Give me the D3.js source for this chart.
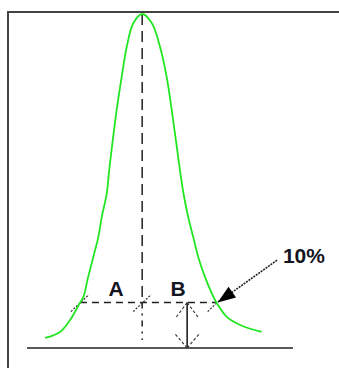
<!DOCTYPE html>
<html>
<head>
<meta charset="utf-8">
<script src="https://cdn.jsdelivr.net/npm/d3@7"></script>
<style>
	body { margin: 0; background: #fff; }
	svg { display: block; }
	.label { font-family: "Liberation Sans", Arial, sans-serif; font-weight: bold; font-size: 21px; fill: #15151f; }
</style>
</head>
<body>
<div id="chart"></div>
<script>
// peak trace (time units 0-100, signal as % of peak height)
let curveTime   = [6.8, 12.4, 16.2, 19.9, 21.2, 23.0, 24.9, 26.8, 28.1, 30.0, 30.9, 31.8, 33.7, 35.6, 37.5, 40.0, 43.3,
	46.9, 50.0, 52.5, 54.4, 57.5, 58.8, 60.6, 62.5, 64.4, 66.9, 69.4, 71.3, 75.1, 80.1, 88.2];
let curveSignal = [3.0, 4.8, 8.4, 13.5, 15.3, 21.3, 27.2, 33.2, 39.2, 46.4, 53.3, 59.3, 71.3, 81.2, 90.2, 97.3, 100,
	97.3, 90.2, 81.2, 71.3, 53.3, 46.4, 39.2, 33.2, 27.2, 21.3, 16.5, 13.5, 9.3, 6.9, 4.8];

// marker values
let peakTime = 43.3;
let peakHeight = 100;
let levelHeight = 13.6;          // the "10%" line
let crossTimes = [19.9, 71.3];   // front (A) and tail (B) crossings
let labels = ["A", "B", "10%"];

let width = 339, height = 368;

let svg = d3.select("#chart").append("svg")
	.attr("width", width)
	.attr("height", height);

// scales
let x = d3.scaleLinear().domain([0, 100]).range([27, 293]);
let y = d3.scaleLinear().domain([0, 100]).range([348, 14]);

// frame (only top and left edges show)
svg.append("rect")
	.attr("x", 8).attr("y", 12)
	.attr("width", 400).attr("height", 400)
	.attr("fill", "none")
	.attr("stroke", "#444")
	.attr("stroke-width", 2);

// baseline
svg.append("line")
	.attr("x1", x(0)).attr("x2", x(100))
	.attr("y1", y(0)).attr("y2", y(0))
	.attr("stroke", "#222")
	.attr("stroke-width", 1.5);

// vertical dashed line through the apex
svg.append("line")
	.attr("x1", x(peakTime)).attr("x2", x(peakTime))
	.attr("y1", y(peakHeight)).attr("y2", y(levelHeight))
	.attr("stroke", "#222")
	.attr("stroke-width", 1.5)
	.attr("stroke-dasharray", "11,6");
svg.append("line")
	.attr("x1", x(peakTime)).attr("x2", x(peakTime))
	.attr("y1", y(levelHeight)).attr("y2", y(2.4))
	.attr("stroke", "#222")
	.attr("stroke-width", 1.5)
	.attr("stroke-dasharray", "6,5,2,5");

// horizontal dashed line at 10% height
svg.append("line")
	.attr("x1", x(crossTimes[0])).attr("x2", x(crossTimes[1]))
	.attr("y1", y(levelHeight)).attr("y2", y(levelHeight))
	.attr("stroke", "#222")
	.attr("stroke-width", 1.5)
	.attr("stroke-dasharray", "7,5");

// small diagonal ticks at the crossings
[crossTimes[0], peakTime, crossTimes[1]].forEach(function (t) {
	svg.append("line")
		.attr("x1", x(t) - 9).attr("y1", y(levelHeight) + 9)
		.attr("x2", x(t) + 9).attr("y2", y(levelHeight) - 8)
		.attr("stroke", "#333")
		.attr("stroke-width", 1.2)
		.attr("stroke-dasharray", "2,1.5");
});

// the peak itself
let data = curveTime.map((t, i) => ({t: t, v: curveSignal[i]}));
let line = d3.line()
	.x(d => x(d.t))
	.y(d => y(d.v))
	.curve(d3.curveCatmullRom);
svg.append("path")
	.datum(data)
	.attr("d", line)
	.attr("fill", "none")
	.attr("stroke", "#22e622")
	.attr("stroke-width", 1.8);

// double-headed height arrow
let hx = x(60.2);
svg.append("line")
	.attr("x1", hx).attr("x2", hx)
	.attr("y1", y(levelHeight)).attr("y2", y(0))
	.attr("stroke", "#111")
	.attr("stroke-width", 1.5);
[[y(levelHeight), 16], [y(0), -14]].forEach(function (a) {
	[-12, 12].forEach(function (dx) {
		svg.append("line")
			.attr("x1", hx).attr("y1", a[0])
			.attr("x2", hx + dx).attr("y2", a[0] + a[1])
			.attr("stroke", "#333")
			.attr("stroke-width", 1.1)
			.attr("stroke-dasharray", "3,2");
	});
});

// pointer arrow to the 10% crossing
let tip = [x(crossTimes[1]) + 1, y(levelHeight)];
let tail = [x(94), y(26.3)];
let len = Math.hypot(tail[0] - tip[0], tail[1] - tip[1]);
let ux = (tail[0] - tip[0]) / len, uy = (tail[1] - tip[1]) / len;
svg.append("line")
	.attr("x1", tail[0]).attr("y1", tail[1])
	.attr("x2", tip[0] + ux * 14).attr("y2", tip[1] + uy * 14)
	.attr("stroke", "#222")
	.attr("stroke-width", 1.6)
	.attr("stroke-dasharray", "2,1");
let bx = tip[0] + ux * 18, by = tip[1] + uy * 18;
svg.append("path")
	.attr("d", "M" + tip[0] + "," + tip[1] +
		"L" + (bx - uy * 6.5) + "," + (by + ux * 6.5) +
		"L" + (bx + uy * 6.5) + "," + (by - ux * 6.5) + "Z")
	.attr("fill", "#000");

// labels
svg.append("text").attr("class", "label")
	.attr("x", x(33.5)).attr("y", y(levelHeight) - 7)
	.attr("text-anchor", "middle")
	.text(labels[0]);
svg.append("text").attr("class", "label")
	.attr("x", x(56.8)).attr("y", y(levelHeight) - 7)
	.attr("text-anchor", "middle")
	.text(labels[1]);
svg.append("text").attr("class", "label")
	.attr("x", x(96.2)).attr("y", y(25.4))
	.text(labels[2]);
</script>
</body>
</html>
